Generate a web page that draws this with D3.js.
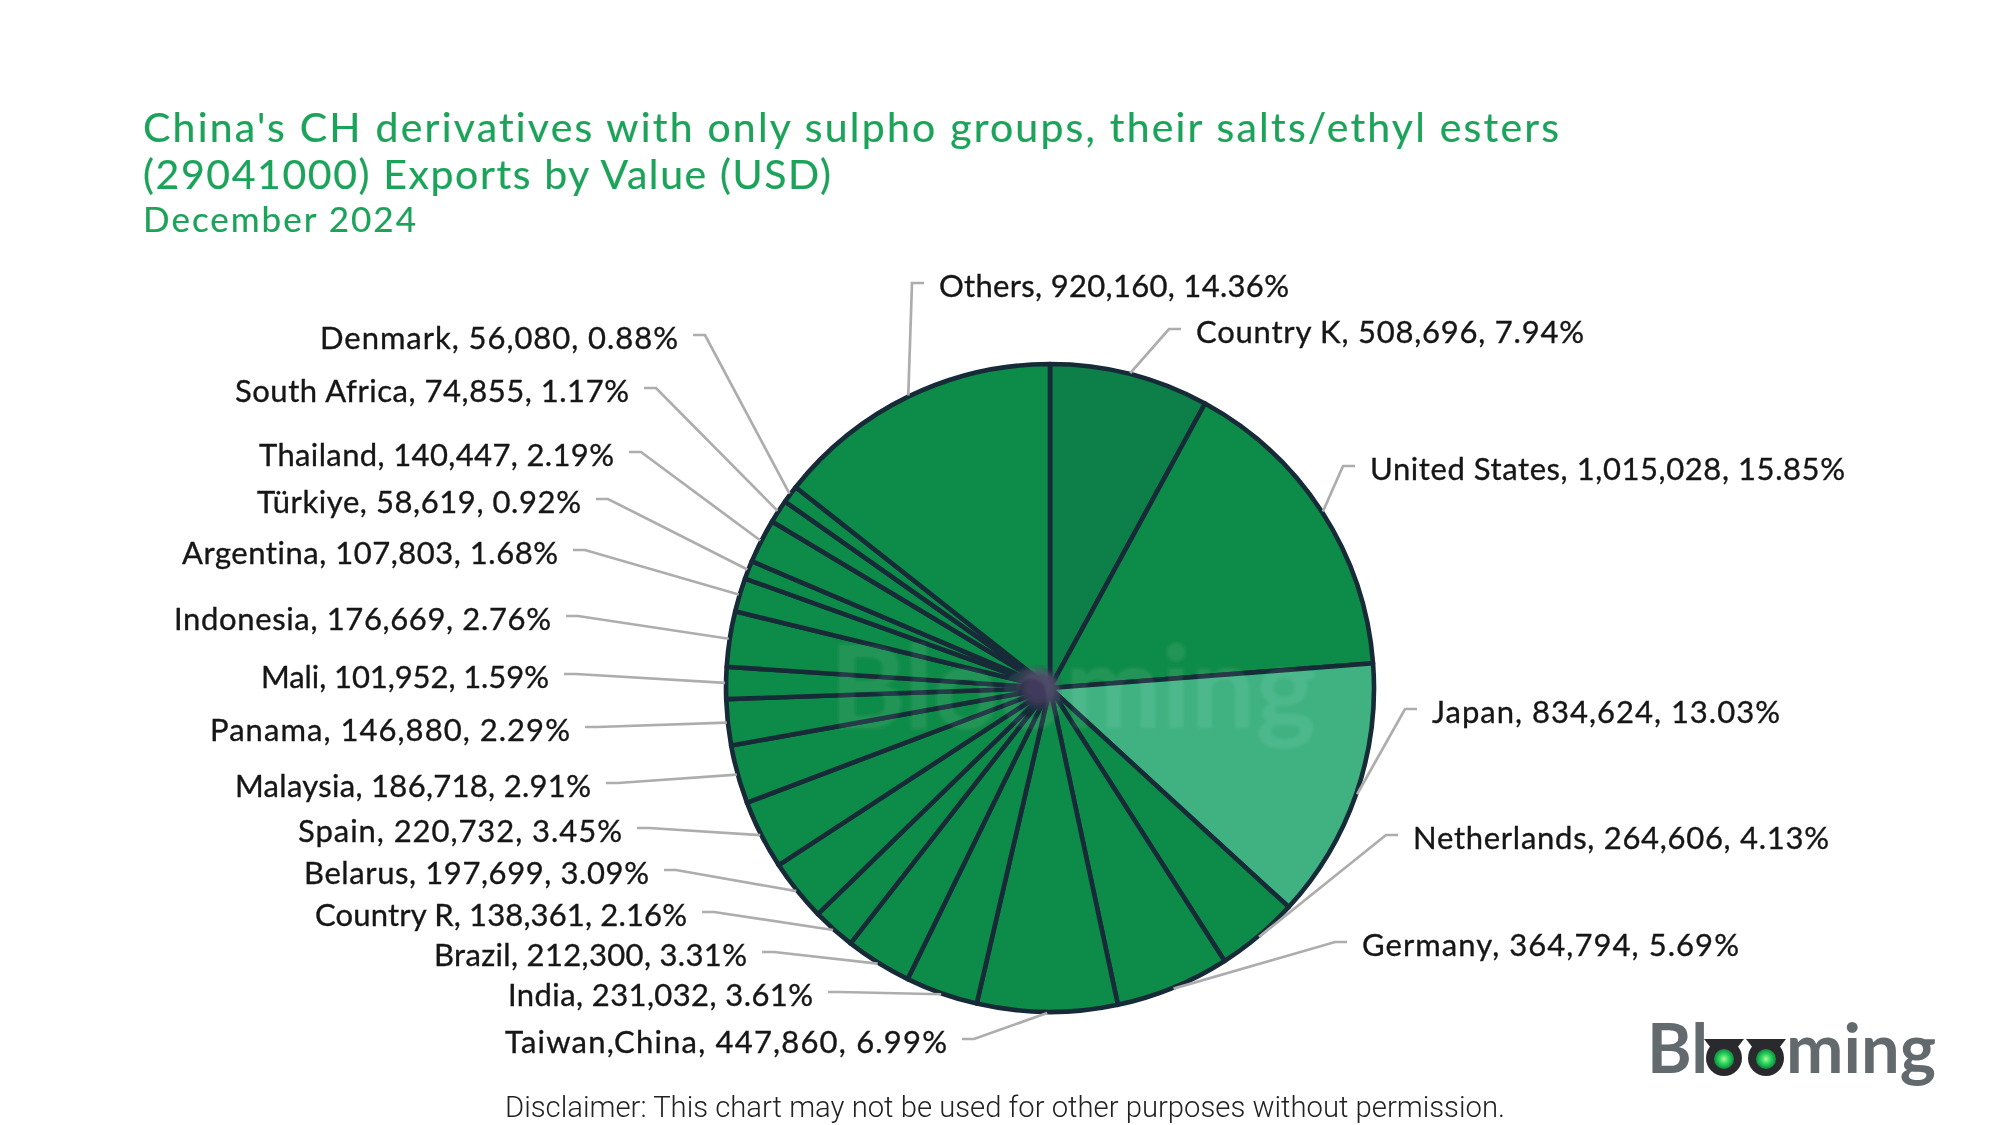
<!DOCTYPE html>
<html><head><meta charset="utf-8">
<script src="https://cdn.jsdelivr.net/npm/d3@7"></script>
<style>
html,body{margin:0;padding:0;background:#fff}
svg{display:block}
text{font-variant-ligatures:none}
</style></head>
<body><svg id="c" width="2000" height="1125"></svg>
<script>
const categories=["Country K","United States","Japan","Netherlands","Germany","Taiwan,China","India","Brazil","Country R","Belarus","Spain","Malaysia","Panama","Mali","Indonesia","Argentina","Türkiye","Thailand","South Africa","Denmark","Others"];
const values=[508696,1015028,834624,264606,364794,447860,231032,212300,138361,197699,220732,186718,146880,101952,176669,107803,58619,140447,74855,56080,920160];
const percents=["7.94","15.85","13.03","4.13","5.69","6.99","3.61","3.31","2.16","3.09","3.45","2.91","2.29","1.59","2.76","1.68","0.92","2.19","1.17","0.88","14.36"];
const titleLines=["China's CH derivatives with only sulpho groups, their salts/ethyl esters","(29041000) Exports by Value (USD)"];
const subtitle="December 2024";
const disclaimer="Disclaimer: This chart may not be used for other purposes without permission.";

// layout per category, same order as categories: text edge x, text centre y, text width
const labelX=[1196,1370,1432,1413,1362,947,813,747,687,649,622,591,570,549,551,558,581,614,629,678,939];
const labelY=[332,469,712,838,945,1042,995,955,915,873,831,786,730,677,619,553,502,455,391,338,286];
const labelW=[388,475,348,416,377,442,305,313,372,345,324,356,360,288,377,376,324,355,394,358,350];
const titleW=[1416,688];

const W=2000,H=1125,cx=1050,cy=688,R=324;
const svg=d3.select("#c");
const defs=svg.append("defs");
defs.append("filter").attr("id","soft").append("feGaussianBlur").attr("stdDeviation",0.55);
defs.append("filter").attr("id","wm").append("feGaussianBlur").attr("stdDeviation",1.5);
defs.append("filter").attr("id","hub").append("feGaussianBlur").attr("stdDeviation",4);
const eye=defs.append("radialGradient").attr("id","eye");
eye.append("stop").attr("offset","0%").attr("stop-color","#b8f59a");
eye.append("stop").attr("offset","45%").attr("stop-color","#2fdc62");
eye.append("stop").attr("offset","100%").attr("stop-color","#0f8a3c");

const root=svg.append("g").attr("filter","url(#soft)");
root.append("rect").attr("width",W).attr("height",H).attr("fill","#fff");

const green="#1ba35a";
const titleFont="Lato, sans-serif";
titleLines.forEach((t,i)=>{
  root.append("text").text(t).attr("x",143).attr("y",142+i*47)
    .attr("font-family",titleFont).attr("font-size",41).attr("fill",green)
    .attr("stroke",green).attr("stroke-width",0.2)
    .attr("textLength",titleW[i]).attr("lengthAdjust","spacing");
});
root.append("text").text(subtitle).attr("x",143).attr("y",232)
  .attr("font-family",titleFont).attr("font-size",35).attr("fill",green)
  .attr("stroke",green).attr("stroke-width",0.2)
  .attr("textLength",273).attr("lengthAdjust","spacing");

const fill=c=>c==="Country K"?"#117f48":c==="Japan"?"#3fb281":"#118c49";
const pie=d3.pie().sort(null).value(d=>d.value);
const arc=d3.arc().innerRadius(0).outerRadius(R);
const data=categories.map((c,i)=>({name:c,value:values[i],pct:percents[i],lx:labelX[i],ly:labelY[i],lw:labelW[i]}));
const arcs=pie(data);
const g=root.append("g").attr("transform",`translate(${cx},${cy})`);

// leader lines
const leader=root.append("g").attr("fill","none").attr("stroke","#adadad").attr("stroke-width",2.7);
arcs.forEach(a=>{
  const mid=(a.startAngle+a.endAngle)/2;
  const px=cx+(R+1)*Math.sin(mid),py=cy-(R+1)*Math.cos(mid);
  const d=a.data,right=d.lx>px;
  const ey=d.ly-3;
  const sx=d.lx+(right?-15:15);
  const kx=sx+(right?-12:12);
  leader.append("path").attr("d",d3.line()([[sx,ey],[kx,ey],[px,py]]));
});

g.selectAll("path").data(arcs).join("path").attr("d",arc)
  .attr("fill",d=>fill(d.data.name)).attr("stroke","#152a38").attr("stroke-width",4.6).attr("stroke-linejoin","round");
g.append("circle").attr("r",19).attr("cx",-11).attr("fill","#3f3b5b").attr("filter","url(#hub)");

// watermark
root.append("text").text("Blooming").attr("x",1073).attr("y",728).attr("text-anchor","middle")
  .attr("font-family",titleFont).attr("font-weight",700).attr("font-size",115).attr("fill","#fff").attr("opacity",.08).attr("filter","url(#wm)");

// labels
const fmt=d3.format(",");
root.append("g").selectAll("text").data(arcs).join("text")
  .text(d=>`${d.data.name}, ${fmt(d.data.value)}, ${d.data.pct}%`)
  .attr("x",d=>d.data.lx).attr("y",d=>d.data.ly)
  .attr("dy","0.35em")
  .attr("text-anchor",d=>{const m=(d.startAngle+d.endAngle)/2;return d.data.lx>cx+R*Math.sin(m)?"start":"end";})
  .attr("textLength",d=>d.data.lw).attr("lengthAdjust","spacing")
  .attr("font-family",titleFont).attr("font-size",31).attr("fill","#161616")
  .attr("stroke","#161616").attr("stroke-width",0.35);

// disclaimer
root.append("text").text(disclaimer).attr("x",1005).attr("y",1117).attr("text-anchor","middle")
  .attr("textLength",1000).attr("lengthAdjust","spacingAndGlyphs")
  .attr("font-family","Roboto, sans-serif").attr("font-weight",300).attr("font-size",30).attr("fill","#222");

// logo
const logo=root.append("g");
const logoGrey="#636a6d";
logo.append("text").text("Bl").attr("x",1647).attr("y",1073).attr("font-family",titleFont).attr("font-weight",700).attr("font-size",68).attr("fill",logoGrey);
logo.append("text").text("ming").attr("x",1786).attr("y",1073).attr("textLength",150).attr("lengthAdjust","spacingAndGlyphs").attr("font-family",titleFont).attr("font-weight",700).attr("font-size",68).attr("fill",logoGrey);
[1724,1766].forEach(x=>{
  logo.append("path").attr("d",`M${x-20},1039 L${x+20},1039 L${x+10},1052 L${x-10},1052 Z`).attr("fill","#2a2b2d");
  logo.append("circle").attr("cx",x).attr("cy",1058).attr("r",18).attr("fill","#2a2b2d");
  logo.append("circle").attr("cx",x).attr("cy",1059).attr("r",10).attr("fill","url(#eye)");
});
</script></body></html>
